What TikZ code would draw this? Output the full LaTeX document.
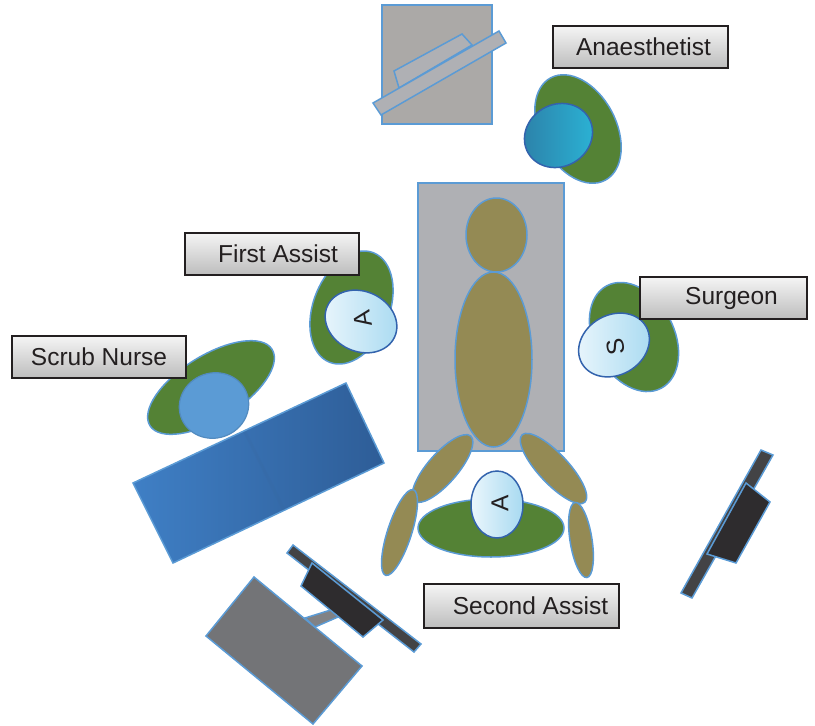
\documentclass[tikz,border=0pt]{standalone}
\usepackage{fontspec}
\setmainfont{Liberation Sans}

\definecolor{rim}{HTML}{5B9BD5}
\definecolor{gowngreen}{HTML}{548235}
\definecolor{skin}{HTML}{948A54}
\definecolor{tablegray}{HTML}{AFB0B4}
\definecolor{cartgray}{HTML}{ABA9A7}
\definecolor{screen}{HTML}{2E2C2E}
\definecolor{stand}{HTML}{434345}
\definecolor{monitorgray}{HTML}{737477}
\definecolor{capline}{HTML}{3363AD}
\definecolor{tagline}{HTML}{231F20}
\definecolor{capwhite}{HTML}{EAF6FC}
\definecolor{capblue}{HTML}{A8DAF1}
\definecolor{tealdark}{HTML}{2C80A8}
\definecolor{teallight}{HTML}{2BB4D6}
\definecolor{trayleft}{HTML}{3F7FC5}
\definecolor{trayright}{HTML}{2E5D97}

\tikzset{every node/.style={font=\fontsize{24.5}{28}\selectfont, text=tagline},
  tag/.style={draw=tagline, line width=2pt, top color=black!4, bottom color=black!26,
    anchor=north west, inner sep=0pt, minimum height=42pt},
  rimmed/.style={draw=rim, line width=1.5pt},
  body/.style={rimmed, fill=skin},
  gown/.style={rimmed, fill=gowngreen},
  lightcap/.style={draw=capline, line width=1.5pt, left color=capwhite, right color=capblue},
  darkcap/.style={draw=capline, line width=1.5pt, left color=tealdark, right color=teallight},
  scrubcap/.style={draw=rim!90!black, line width=1.2pt, fill=rim}}

% filled ellipse: style, centre x, centre y, x radius, y radius, angle
\newcommand{\blob}[6]{\draw[#1, rotate around={#6:(#2,#3)}] (#2,#3) ellipse [x radius=#4, y radius=#5];}

\begin{document}
\begin{tikzpicture}[x=1pt,y=1pt]
  \useasboundingbox (0,0) rectangle (815,-726);
  % anaesthetic machine
  \draw[rimmed, fill=cartgray] (382,-5) rectangle (492,-124);
  \draw[rimmed, fill=tablegray] (399,-88) -- (394,-71) -- (462,-34) -- (472,-45) -- cycle;
  \draw[rimmed, fill=tablegray] (373,-103) -- (381,-115) -- (506,-43) -- (499,-31) -- cycle;
  % table and patient
  \draw[rimmed, fill=tablegray] (418,-183) rectangle (564,-451);
  \blob{body}{496.5}{-235}{30.5}{37}{0}
  \blob{body}{493.5}{-359.5}{38.5}{87.5}{0}
  \blob{body}{442.5}{-468.5}{43}{15}{49}
  \blob{body}{553.5}{-468.5}{46}{15}{-47}
  \blob{body}{399.5}{-532.5}{45}{12}{72}
  \blob{body}{581}{-540}{38}{11}{-81}
  % staff round the table
  \blob{gown}{578}{-129}{38}{58}{28}
  \blob{darkcap}{558.5}{-135.5}{35}{31}{30}
  \blob{gown}{351.5}{-307.5}{38}{59}{-22}
  \blob{lightcap}{361}{-321.5}{37}{30}{-25}
  \blob{gown}{634}{-337}{40}{58}{28}
  \blob{lightcap}{614}{-345}{37}{30}{30}
  \blob{gown}{211}{-387.5}{72}{32}{32}
  \blob{scrubcap}{214}{-405.5}{35}{32.5}{20}
  \blob{gown}{491}{-528}{73}{29}{0}
  \blob{lightcap}{497}{-504.5}{26}{33.5}{0}
  \node[rotate=100] (firstA) at (363,-319) {A};
  \node[rotate=100] (surgS) at (616,-347) {S};
  \node[rotate=90] (secondA) at (500,-503) {A};
  % instrument trolley
  \draw[rimmed, left color=trayleft, right color=trayright]
    (133,-483) -- (346,-383) -- (384,-463) -- (173,-563) -- cycle;
  \draw[trayright!80!rim, line width=3pt, opacity=0.3] (245,-432) -- (284,-510);
  % monitors
  \draw[rimmed, fill=monitorgray!90] (305,-618) -- (334,-609) -- (338,-617) -- (315,-627) -- cycle;
  \draw[rimmed, fill=monitorgray] (254,-577) -- (362,-666) -- (313,-724) -- (206,-636) -- cycle;
  \draw[rimmed, fill=stand] (293,-545) -- (421,-644) -- (414,-652) -- (287,-553) -- cycle;
  \draw[rimmed, fill=screen] (312,-563) -- (383,-620) -- (363,-637) -- (301,-586) -- cycle;
  \draw[rimmed, fill=stand] (761,-450) -- (773,-455) -- (692,-598) -- (681,-593) -- cycle;
  \draw[rimmed, fill=screen] (746,-483) -- (770,-502) -- (736,-563) -- (707,-554) -- cycle;
  % name tags
  \node[tag, minimum width=175pt] (anaes) at (552,-25) {\hspace*{6pt}Anaesthetist};
  \node[tag, minimum width=174pt] (first) at (184,-232) {\hspace*{12pt}First Assist};
  \node[tag, minimum width=174pt] (scrub) at (11,-335) {Scrub Nurse};
  \node[tag, minimum width=167pt] (surgeon) at (639,-276) {\hspace*{16pt}Surgeon};
  \node[tag, minimum width=195pt, minimum height=44pt] (second) at (423,-583) {\hspace*{18pt}Second Assist};
\end{tikzpicture}
\end{document}
